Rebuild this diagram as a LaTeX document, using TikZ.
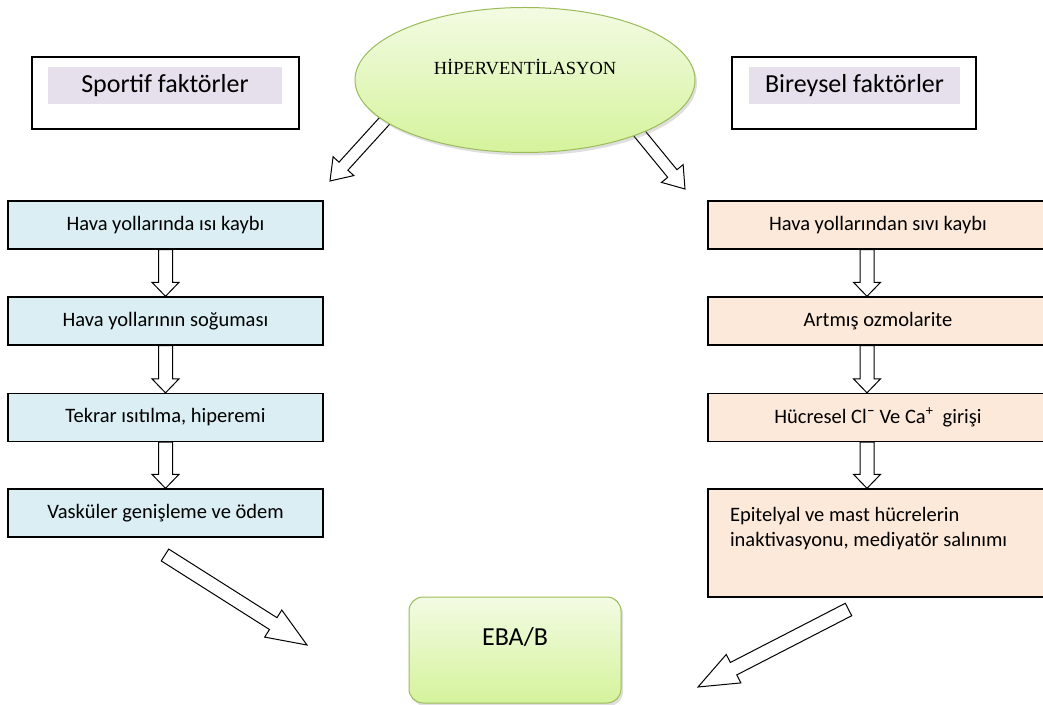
\documentclass[tikz,border=0pt]{standalone}
\usepackage{fontspec}
\setmainfont{Carlito}
\newfontfamily\timesfont{Liberation Serif}
\usepackage{tikz}
\usetikzlibrary{calc,shapes.geometric,shadows}
\definecolor{leftBlue}{HTML}{DAEEF3}
\definecolor{rightPeach}{HTML}{FDE9D9}
\definecolor{headLilac}{HTML}{E5E0EC}
\definecolor{oliveLine}{HTML}{9BBB59}
\definecolor{limeTop}{HTML}{F3FBE3}
\definecolor{limeBottom}{HTML}{D5F39C}
\tikzset{
box/.style = {rectangle, draw=black, line width=1.3pt, inner sep=0pt,
              minimum height=48pt, font=\fontsize{20.5}{25}\selectfont},
lbox/.style = {box, fill=leftBlue, minimum width=315pt},
rbox/.style = {box, fill=rightPeach, minimum width=340pt}
}
\tikzset{
headbox/.style = {rectangle, draw=black, line width=1.3pt, minimum height=72pt},
headlbl/.style = {rectangle, fill=headLilac, inner sep=0pt, minimum height=37pt,
                  font=\fontsize{26}{30}\selectfont},
lime/.style = {draw=oliveLine, line width=1pt, top color=limeTop, bottom color=limeBottom,
               drop shadow={opacity=0.25, shadow xshift=2pt, shadow yshift=-3pt}},
hollow/.style = {draw=black, fill=white, line width=1pt, line join=miter}
}
% #1 shaft half width, #2 head half width, #3 head length, #4 tail, #5 tip
\newcommand{\blockArrow}[5]{%
  \draw[hollow] let \p1=($(#5)-(#4)$), \n1={atan2(\y1,\x1)}, \n2={veclen(\x1,\y1)-#3} in
    ($(#4)+({\n1+90}:#1)$) -- ($(#4)+(\n1:\n2)+({\n1+90}:#1)$)
    -- ($(#4)+(\n1:\n2)+({\n1+90}:#2)$) -- (#5)
    -- ($(#4)+(\n1:\n2)+({\n1-90}:#2)$) -- ($(#4)+(\n1:\n2)+({\n1-90}:#1)$)
    -- ($(#4)+({\n1-90}:#1)$) -- cycle;}

\begin{document}
\begin{tikzpicture}[x=1pt, y=1pt]
\clip[use as bounding box] (0,0) rectangle (1043,704);

    \node[headbox, minimum width=267pt] (sportBox) at (165.5,611) {};
    \node[headlbl, minimum width=234pt] (sportLbl) at (165,618) {Sportif faktörler};
    \node[headbox, minimum width=244pt] (persBox) at (854,611) {};
    \node[headlbl, minimum width=211pt] (persLbl) at (854.5,618.5) {Bireysel faktörler};

    \node[lbox] (left1) at (165.5,479) {Hava yollarında ısı kaybı};
    \node[lbox] (left2) at (165.5,383) {Hava yollarının soğuması};
    \node[lbox] (left3) at (165.5,286.5) {Tekrar ısıtılma, hiperemi};
    \node[lbox] (left4) at (165.5,191) {Vasküler genişleme ve ödem};

    \node[rbox] (right1) at (878,479) {Hava yollarından sıvı kaybı};
    \node[rbox] (right2) at (878,383) {Artmış ozmolarite};
    \node[rbox] (right3) at (878,286.5) {Hücresel Cl¯ Ve Ca\textsuperscript{+}\ \ girişi};
    \node[rbox, minimum height=108pt, align=flush left, text width=296pt, inner xsep=22pt]
        (right4) at (878,161) {Epitelyal ve mast hücrelerin\\inaktivasyonu, mediyatör salınımı\\\strut};

\foreach \a/\b in {left1/left2, left2/left3, left3/left4}
    \blockArrow{7}{13.5}{14}{\a.south}{\b.north};
\foreach \a/\b [count=\i] in {right1/right2, right2/right3, right3/right4} {
    \coordinate (rTail\i) at ([xshift=-11pt]\a.south);
    \coordinate (rTip\i) at ([xshift=-11pt]\b.north);
    \blockArrow{7}{13.5}{14}{rTail\i}{rTip\i};
}

\coordinate (hypLTail) at (389,588);
\coordinate (hypLTip) at (330,523);
\coordinate (hypRTail) at (635,576);
\coordinate (hypRTip) at (685,515);
\blockArrow{6}{14}{20}{hypLTail}{hypLTip};
\blockArrow{6}{14}{20}{hypRTail}{hypRTip};

    \node[ellipse, lime, minimum width=340pt, minimum height=145pt] (hypEll) at (525,624) {};
    \node[font=\timesfont\fontsize{18.5}{22}\selectfont] (hypLbl) at (525,637) {HİPERVENTİLASYON};

    \node[rectangle, rounded corners=14pt, lime, minimum width=212pt, minimum height=106pt] (ebaBox) at (515,54) {};
    \node[font=\fontsize{26}{30}\selectfont] (ebaLbl) at (515,67) {EBA/B};

\coordinate (botLTail) at (165,149);
\coordinate (botLTip) at (307,59);
\coordinate (botRTail) at (848.5,94.5);
\coordinate (botRTip) at (698,17);
\blockArrow{7}{16}{40}{botLTail}{botLTip};
\blockArrow{7}{16}{40}{botRTail}{botRTip};
\end{tikzpicture}
\end{document}
